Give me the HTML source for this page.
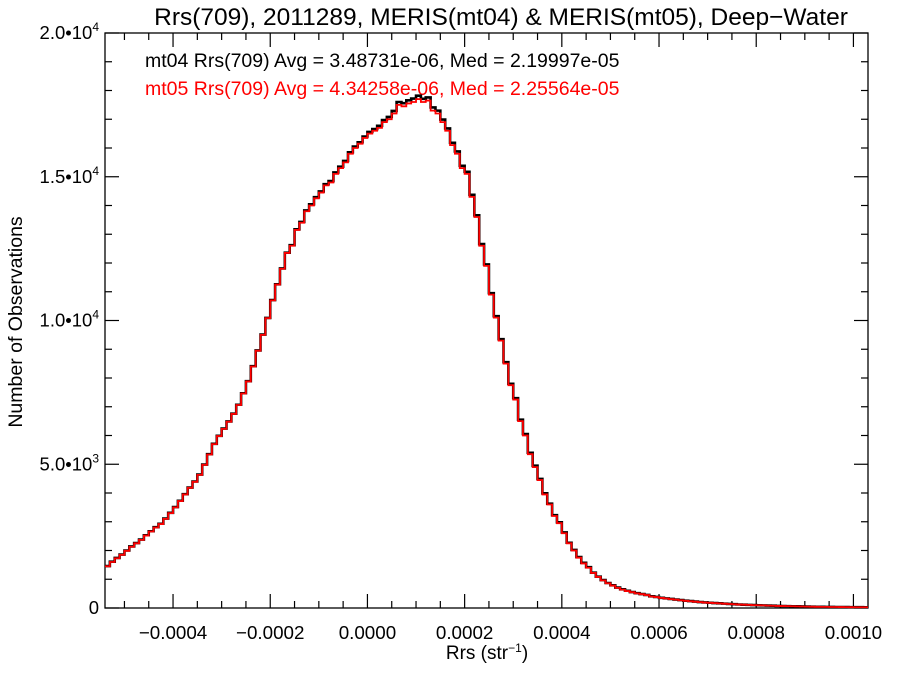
<!DOCTYPE html>
<html><head><meta charset="utf-8"><style>
body{margin:0;background:#fff}
svg{display:block;font-family:"Liberation Sans",Arial,sans-serif}
</style></head><body>
<svg id="chart" width="900" height="675" viewBox="0 0 900 675">
<text x="501" y="25" font-size="24.5" text-anchor="middle">Rrs(709), 2011289, MERIS(mt04) &amp; MERIS(mt05), Deep−Water</text>
<text x="145" y="67" font-size="19.5" fill="#000">mt04 Rrs(709) Avg = 3.48731e-06, Med = 2.19997e-05</text>
<text x="145" y="95" font-size="19.5" fill="#ff0000">mt05 Rrs(709) Avg = 4.34258e-06, Med = 2.25564e-05</text>
<text transform="translate(22,322) rotate(-90)" font-size="19.5" text-anchor="middle">Number of Observations</text>
<text x="487" y="659" font-size="19" text-anchor="middle">Rrs (str<tspan font-size="12" dy="-7">−1</tspan><tspan dy="7">)</tspan></text>
<g id="axes"></g>
<g id="series"></g>
</svg>
<script>
const binStart = -0.00054;
const binWidth = 0.00001;
const mt04Counts = [1460,1610,1740,1860,2000,2140,2260,2380,2530,2670,
2810,2930,3110,3310,3510,3730,3960,4190,4400,4640,
4990,5350,5710,5990,6240,6490,6760,7070,7470,7890,
8410,8960,9510,10090,10710,11260,11810,12360,12620,13170,
13430,13830,14040,14290,14490,14740,14850,15150,15350,15550,
15850,16050,16200,16400,16560,16660,16770,16970,17080,17290,
17600,17560,17660,17720,17820,17710,17760,17410,17300,16990,
16680,16180,15880,15380,15170,14370,13660,12660,11950,10950,
10150,9350,8550,7800,7300,6550,6050,5400,4950,4490,
3990,3630,3230,2980,2630,2270,2020,1770,1570,1420,
1230,1090,970,870,790,710,650,600,555,515,
485,455,405,385,355,335,315,295,275,255,
240,224,208,193,183,172,162,152,142,132,
122,116,109,101,96,91,85,79,73,69,
65,61,57,53,49,46,43,41,39,37,
35,33,31,29,28,27,26];
const mt05Counts = [1450,1600,1730,1850,1990,2130,2250,2370,2520,2660,
2800,2920,3100,3300,3500,3720,3950,4180,4390,4630,
4980,5340,5700,5980,6230,6480,6750,7060,7460,7880,
8400,8950,9500,10080,10700,11250,11800,12350,12600,13150,
13400,13800,14000,14250,14450,14700,14800,15100,15300,15500,
15800,16000,16150,16350,16500,16600,16700,16900,17000,17200,
17500,17450,17550,17600,17700,17600,17650,17300,17200,16900,
16600,16100,15800,15300,15100,14300,13600,12600,11900,10900,
10100,9300,8500,7750,7250,6500,6000,5350,4900,4450,
3950,3600,3200,2950,2600,2250,2000,1750,1550,1400,
1220,1080,960,860,780,700,640,590,550,510,
480,450,400,380,350,330,310,290,270,250,
235,220,205,190,180,170,160,150,140,130,
120,115,108,100,95,90,84,78,72,68,
64,60,56,52,48,45,42,40,38,36,
34,32,30,28,27,26,25];
const xTickValues = [-0.0004,-0.0002,0.0,0.0002,0.0004,0.0006,0.0008,0.0010];
const xTickLabels = ["−0.0004","−0.0002","0.0000","0.0002","0.0004","0.0006","0.0008","0.0010"];
const yTickValues = [0,5000,10000,15000,20000];
const yTickLabels = ["0","5.0•10|3","1.0•10|4","1.5•10|4","2.0•10|4"];

const L=105,R=868,T=33,B=608;
const XMIN=-0.00054,XMAX=0.00103,YMIN=0,YMAX=20000;
const sx=v=>L+(v-XMIN)/(XMAX-XMIN)*(R-L);
const sy=v=>B-(v-YMIN)/(YMAX-YMIN)*(B-T);
const NS="http://www.w3.org/2000/svg";
const axes=document.getElementById('axes');
function mk(tag,attrs,parent){const e=document.createElementNS(NS,tag);for(const k in attrs)e.setAttribute(k,attrs[k]);parent.appendChild(e);return e;}

const frame=mk('rect',{x:L,y:T,width:R-L,height:B-T,fill:'none',stroke:'#000','stroke-width':1.3},axes);



for(let k=-10;k<=20;k++){const v=k*0.00005;if(v<XMIN||v>XMAX)continue;const x=sx(v);const major=(k%4===0);const len=major?14:7;
 const t1=mk('line',{x1:x,x2:x,y1:B,y2:B-len,stroke:'#000','stroke-width':1.2},axes);
 
 
 const t2=mk('line',{x1:x,x2:x,y1:T,y2:T+len,stroke:'#000','stroke-width':1.2},axes);
 
 }
xTickValues.forEach((v,i)=>{const t=mk('text',{x:sx(v),y:B+31,'font-size':18.8,'text-anchor':'middle'},axes);t.textContent=xTickLabels[i];
 
 });
for(let v=0;v<=20000;v+=1000){const y=sy(v);const major=(v%5000===0);const len=major?14:7;
 const t1=mk('line',{x1:L,x2:L+len,y1:y,y2:y,stroke:'#000','stroke-width':1.2},axes);
 
 
 const t2=mk('line',{x1:R,x2:R-len,y1:y,y2:y,stroke:'#000','stroke-width':1.2},axes);
 
 }
yTickValues.forEach((v,i)=>{const parts=yTickLabels[i].split('|');const t=mk('text',{x:L-6,y:sy(v)+6,'font-size':18.5,'text-anchor':'end'},axes);
 
 
 if(parts.length===1){t.textContent=parts[0];}else{
  const a=mk('tspan',{},t);a.textContent=parts[0];
  const b=mk('tspan',{'font-size':12,dy:-8},t);b.textContent=parts[1];}
});
const series=document.getElementById('series');
function stepPath(counts){let d='';counts.forEach((c,i)=>{const x0=sx(binStart+i*binWidth),x1=sx(binStart+(i+1)*binWidth),y=sy(c);d+=(i===0?'M':'L')+x0.toFixed(2)+','+y.toFixed(2)+'L'+Math.min(x1,R).toFixed(2)+','+y.toFixed(2);});return d;}
const p1=mk('path',{d:stepPath(mt04Counts),fill:'none',stroke:'#000','stroke-width':2.6},series);


const p2=mk('path',{d:stepPath(mt05Counts),fill:'none',stroke:'#ff0000','stroke-width':1.8},series);


</script>
</body></html>
